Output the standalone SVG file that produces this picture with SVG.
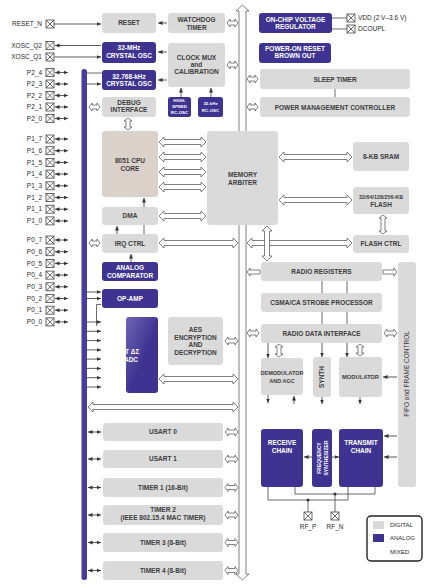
<svg xmlns="http://www.w3.org/2000/svg" width="448" height="588" viewBox="0 0 448 588">
<defs>
<style>
.g{fill:#dadada}
.p{fill:#3e3391}
.cpu{fill:#dbd1cb}
.t{font-family:"Liberation Sans",Arial,sans-serif;font-size:6.5px;font-weight:bold;fill:#3c3c3c;text-anchor:middle}
.tw{font-family:"Liberation Sans",Arial,sans-serif;font-size:6.5px;font-weight:bold;fill:#fff;text-anchor:middle}
.sm{font-size:4.4px}
.lab{font-family:"Liberation Sans",Arial,sans-serif;font-size:6.5px;fill:#2a2a2a;text-anchor:end}
.labl{font-family:"Liberation Sans",Arial,sans-serif;font-size:6.5px;fill:#2a2a2a}
.l{stroke:#444;stroke-width:0.8;fill:none}
.a{stroke:#333;stroke-width:0.8;fill:none;marker-end:url(#ah)}
.d{stroke:#333;stroke-width:0.8;fill:none;marker-start:url(#ah);marker-end:url(#ah)}
.h{fill:#fff;stroke:#555;stroke-width:0.75}
.pin{fill:#fff;stroke:#444;stroke-width:0.8}
</style>
<marker id="ah" viewBox="0 0 8 8" refX="8" refY="4" markerWidth="4.5" markerHeight="4.5" markerUnits="userSpaceOnUse" orient="auto-start-reverse"><path d="M0 0.5 L8 4 L0 7.5 z" fill="#333"/></marker>
<linearGradient id="adc" x1="0" y1="0" x2="1" y2="1"><stop offset="0" stop-color="#6f66b4"/><stop offset="0.55" stop-color="#3e3391"/></linearGradient>
<g id="px"><rect x="-4" y="-4" width="8" height="8" class="pin"/><path d="M-4 -4 L4 4 M4 -4 L-4 4" class="l"/></g>
</defs>
<rect width="448" height="588" fill="#fff"/>

<g id="connectors">
<rect x="81.5" y="69" width="5.5" height="511" rx="2.5" fill="#483d9c"/>
<path class="h" d="M239 574 V11 h-3 l6.5 -6 l6.5 6 h-3 V574 h3 l-6.5 6 l-6.5 -6 z"/>
<line class="a" x1="54" y1="24" x2="101" y2="24"/>
<line class="a" x1="101" y1="45.5" x2="55" y2="45.5"/>
<line class="a" x1="54" y1="57" x2="101" y2="57"/>
<g class="d">
<line x1="55" y1="72.5" x2="68" y2="72.5"/><line x1="55" y1="84" x2="68" y2="84"/><line x1="55" y1="95.5" x2="68" y2="95.5"/><line x1="55" y1="107" x2="68" y2="107"/><line x1="55" y1="118.5" x2="68" y2="118.5"/>
<line x1="55" y1="139" x2="68" y2="139"/><line x1="55" y1="150.7" x2="68" y2="150.7"/><line x1="55" y1="162.4" x2="68" y2="162.4"/><line x1="55" y1="174.1" x2="68" y2="174.1"/><line x1="55" y1="185.8" x2="68" y2="185.8"/><line x1="55" y1="197.5" x2="68" y2="197.5"/><line x1="55" y1="209.2" x2="68" y2="209.2"/><line x1="55" y1="220.9" x2="68" y2="220.9"/>
<line x1="55" y1="240" x2="68" y2="240"/><line x1="55" y1="251.7" x2="68" y2="251.7"/><line x1="55" y1="263.4" x2="68" y2="263.4"/><line x1="55" y1="275.1" x2="68" y2="275.1"/><line x1="55" y1="286.8" x2="68" y2="286.8"/><line x1="55" y1="298.5" x2="68" y2="298.5"/><line x1="55" y1="310.2" x2="68" y2="310.2"/><line x1="55" y1="321.9" x2="68" y2="321.9"/>
<line x1="88" y1="432" x2="101" y2="432"/><line x1="88" y1="459" x2="101" y2="459"/><line x1="88" y1="487.5" x2="101" y2="487.5"/><line x1="88" y1="515" x2="101" y2="515"/><line x1="88" y1="542.5" x2="101" y2="542.5"/><line x1="88" y1="570.5" x2="101" y2="570.5"/>
</g>
<line class="l" x1="87" y1="73" x2="102" y2="73"/>
<line class="a" x1="87" y1="84" x2="101" y2="84"/>
<line class="a" x1="87" y1="292" x2="101" y2="292"/>
<line class="a" x1="87" y1="298.5" x2="101" y2="298.5"/>
<path class="l" d="M101 304.5 H96.5 V326"/>
<g class="a">
<line x1="87" y1="322" x2="101" y2="322"/><line x1="87" y1="331.3" x2="101" y2="331.3"/><line x1="87" y1="340.6" x2="101" y2="340.6"/><line x1="87" y1="349.9" x2="101" y2="349.9"/><line x1="87" y1="359.1" x2="101" y2="359.1"/><line x1="87" y1="368.4" x2="101" y2="368.4"/><line x1="87" y1="377.7" x2="101" y2="377.7"/><line x1="87" y1="387" x2="101" y2="387"/>
</g>
<line class="a" x1="167" y1="23" x2="158" y2="23"/>
<line class="a" x1="167" y1="52" x2="158" y2="52"/>
<line class="a" x1="167" y1="80" x2="158" y2="80"/>
<line class="a" x1="181" y1="97" x2="181" y2="88"/>
<line class="a" x1="211" y1="97" x2="211" y2="88"/>
<line class="a" x1="144" y1="207" x2="144" y2="198"/>
<line class="l" x1="144" y1="225" x2="144" y2="234"/>
<line class="a" x1="117" y1="234" x2="117" y2="226"/>
<line class="a" x1="131" y1="262" x2="131" y2="254"/>
<line class="l" x1="335" y1="89" x2="335" y2="97"/>
<line class="l" x1="332" y1="18" x2="347" y2="18"/>
<line class="l" x1="332" y1="29" x2="347" y2="29"/>
<path class="h" d="M227 23 l3 -4 v2 H235 v-2 l3 4 l-3 4 v-2 H230 v2 z"/>
<path class="h" d="M227 65 l3 -4 v2 H235 v-2 l3 4 l-3 4 v-2 H230 v2 z"/>
<path class="h" d="M247 79 l3 -4 v2 H255 v-2 l3 4 l-3 4 v-2 H250 v2 z"/>
<path class="h" d="M247 107 l3 -4 v2 H255 v-2 l3 4 l-3 4 v-2 H250 v2 z"/>
<path class="h" d="M89 107 l3 -4 v2 H97 v-2 l3 4 l-3 4 v-2 H92 v2 z"/>
<path class="h" d="M89 243 l3 -4 v2 H97 v-2 l3 4 l-3 4 v-2 H92 v2 z"/>
<path class="h" d="M247 333 l3 -4 v2 H256 v-2 l3 4 l-3 4 v-2 H250 v2 z"/>
<path class="h" d="M384 333 l3 -4 v2 H394 v-2 l3 4 l-3 4 v-2 H387 v2 z"/>
<path class="h" d="M225 341 l3 -4 v2 H235 v-2 l3 4 l-3 4 v-2 H228 v2 z"/>
<path class="h" d="M225 432 l3 -4 v2 H235 v-2 l3 4 l-3 4 v-2 H228 v2 z"/>
<path class="h" d="M225 459 l3 -4 v2 H235 v-2 l3 4 l-3 4 v-2 H228 v2 z"/>
<path class="h" d="M225 487.5 l3 -4 v2 H235 v-2 l3 4 l-3 4 v-2 H228 v2 z"/>
<path class="h" d="M225 515 l3 -4 v2 H235 v-2 l3 4 l-3 4 v-2 H228 v2 z"/>
<path class="h" d="M225 542.5 l3 -4 v2 H235 v-2 l3 4 l-3 4 v-2 H228 v2 z"/>
<path class="h" d="M225 570.5 l3 -4 v2 H235 v-2 l3 4 l-3 4 v-2 H228 v2 z"/>
<path class="h" d="M247 272 l3 -4 v2 H260 v4 H250 v2 z"/>
<path class="h" d="M397 272 l-3 -4 v2 H383 v4 H394 v2 z"/>
<path class="h" d="M128 118 l-4 3 h2 V127 h-2 l4 3 l4 -3 h-2 V121 h2 z"/>
<path class="h" d="M383 215 l-4 3 h2 V231 h-2 l4 3 l4 -3 h-2 V218 h2 z"/>
<path class="h" d="M279 344 l-4 3 h2 V354 h-2 l4 3 l4 -3 h-2 V347 h2 z"/>
<path class="h" d="M360 344 l-4 3 h2 V353 h-2 l4 3 l4 -3 h-2 V347 h2 z"/>
<path class="h" d="M159 142 l5 -5 v2.5 H201 v-2.5 l5 5 l-5 5 v-2.5 H164 v2.5 z"/>
<path class="h" d="M159 157 l5 -5 v2.5 H201 v-2.5 l5 5 l-5 5 v-2.5 H164 v2.5 z"/>
<path class="h" d="M159 172 l5 -5 v2.5 H201 v-2.5 l5 5 l-5 5 v-2.5 H164 v2.5 z"/>
<path class="h" d="M159 187 l5 -5 v2.5 H201 v-2.5 l5 5 l-5 5 v-2.5 H164 v2.5 z"/>
<path class="h" d="M159 216 l5 -5 v2.5 H201 v-2.5 l5 5 l-5 5 v-2.5 H164 v2.5 z"/>
<path class="h" d="M159 243 l5 -5 v2.5 H233 v-2.5 l5 5 l-5 5 v-2.5 H164 v2.5 z"/>
<path class="h" d="M247 243 l5 -5 v2.5 H347 v-2.5 l5 5 l-5 5 v-2.5 H252 v2.5 z"/>
<path class="h" d="M279 157 l5 -5 v2.5 H347 v-2.5 l5 5 l-5 5 v-2.5 H284 v2.5 z"/>
<path class="h" d="M279 200 l5 -5 v2.5 H347 v-2.5 l5 5 l-5 5 v-2.5 H284 v2.5 z"/>
<path class="h" d="M159 379 l5 -5 v2.5 H233 v-2.5 l5 5 l-5 5 v-2.5 H164 v2.5 z"/>
<path class="h" d="M88 407 l5 -5 v2.5 H233 v-2.5 l5 5 l-5 5 v-2.5 H93 v2.5 z"/>
<path class="h" d="M267 226 l-5 5 h2.5 V256 h-2.5 l5 5 l5 -5 h-2.5 V231 h2.5 z"/>
<path class="l" d="M322 281 V293 M347 281 V293 M322 312 V324 M347 312 V324"/>
<line class="a" x1="322" y1="343" x2="322" y2="357"/>
<line class="a" x1="347" y1="343" x2="347" y2="357"/>
<line class="a" x1="268" y1="343" x2="268" y2="358"/>
<line class="a" x1="268" y1="395" x2="268" y2="403"/>
<line class="a" x1="294" y1="404" x2="294" y2="396"/>
<line class="a" x1="322" y1="397" x2="322" y2="404"/>
<line class="a" x1="360" y1="397" x2="360" y2="404"/>
<line class="a" x1="397" y1="377" x2="383" y2="377"/>
<line class="a" x1="397" y1="436" x2="384" y2="436"/>
<line class="a" x1="397" y1="457" x2="384" y2="457"/>
<line class="a" x1="312" y1="457" x2="304" y2="457"/>
<line class="a" x1="332" y1="457" x2="339" y2="457"/>
<path class="l" d="M268 487 V500 H348 V487"/>
<path class="l" d="M295 487 V494 H375 V487"/>
<path class="l" d="M308 500 V512 M335 494 V512"/>
<circle cx="308" cy="500" r="1.5" fill="#333"/>
<circle cx="335" cy="494" r="1.5" fill="#333"/>
</g>

<g id="pins">
<g id="pin-reset_n"><text class="lab" x="42" y="26.2">RESET_N</text><use href="#px" x="50" y="24"/></g>
<g id="pin-xosc_q2"><text class="lab" x="42" y="47.7">XOSC_Q2</text><use href="#px" x="50" y="45.5"/></g>
<g id="pin-xosc_q1"><text class="lab" x="42" y="59.2">XOSC_Q1</text><use href="#px" x="50" y="57"/></g>
<g id="pin-p2_4"><text class="lab" x="42" y="74.7">P2_4</text><use href="#px" x="50" y="72.5"/></g>
<g id="pin-p2_3"><text class="lab" x="42" y="86.2">P2_3</text><use href="#px" x="50" y="84"/></g>
<g id="pin-p2_2"><text class="lab" x="42" y="97.7">P2_2</text><use href="#px" x="50" y="95.5"/></g>
<g id="pin-p2_1"><text class="lab" x="42" y="109.2">P2_1</text><use href="#px" x="50" y="107"/></g>
<g id="pin-p2_0"><text class="lab" x="42" y="120.7">P2_0</text><use href="#px" x="50" y="118.5"/></g>
<g id="pin-p1_7"><text class="lab" x="42" y="141.2">P1_7</text><use href="#px" x="50" y="139"/></g>
<g id="pin-p1_6"><text class="lab" x="42" y="152.9">P1_6</text><use href="#px" x="50" y="150.7"/></g>
<g id="pin-p1_5"><text class="lab" x="42" y="164.6">P1_5</text><use href="#px" x="50" y="162.4"/></g>
<g id="pin-p1_4"><text class="lab" x="42" y="176.3">P1_4</text><use href="#px" x="50" y="174.1"/></g>
<g id="pin-p1_3"><text class="lab" x="42" y="188">P1_3</text><use href="#px" x="50" y="185.8"/></g>
<g id="pin-p1_2"><text class="lab" x="42" y="199.7">P1_2</text><use href="#px" x="50" y="197.5"/></g>
<g id="pin-p1_1"><text class="lab" x="42" y="211.4">P1_1</text><use href="#px" x="50" y="209.2"/></g>
<g id="pin-p1_0"><text class="lab" x="42" y="223.1">P1_0</text><use href="#px" x="50" y="220.9"/></g>
<g id="pin-p0_7"><text class="lab" x="42" y="242.2">P0_7</text><use href="#px" x="50" y="240"/></g>
<g id="pin-p0_6"><text class="lab" x="42" y="253.9">P0_6</text><use href="#px" x="50" y="251.7"/></g>
<g id="pin-p0_5"><text class="lab" x="42" y="265.6">P0_5</text><use href="#px" x="50" y="263.4"/></g>
<g id="pin-p0_4"><text class="lab" x="42" y="277.3">P0_4</text><use href="#px" x="50" y="275.1"/></g>
<g id="pin-p0_3"><text class="lab" x="42" y="289">P0_3</text><use href="#px" x="50" y="286.8"/></g>
<g id="pin-p0_2"><text class="lab" x="42" y="300.7">P0_2</text><use href="#px" x="50" y="298.5"/></g>
<g id="pin-p0_1"><text class="lab" x="42" y="312.4">P0_1</text><use href="#px" x="50" y="310.2"/></g>
<g id="pin-p0_0"><text class="lab" x="42" y="324.1">P0_0</text><use href="#px" x="50" y="321.9"/></g>
<g id="pin-vdd"><use href="#px" x="351" y="18"/><text class="labl" x="358" y="20.2">VDD (2 V–3.6 V)</text></g>
<g id="pin-dcoupl"><use href="#px" x="351" y="29"/><text class="labl" x="358" y="31.2">DCOUPL</text></g>
<g id="pin-rf_p"><use href="#px" x="308" y="516"/><text class="labl" x="308" y="529" text-anchor="middle">RF_P</text></g>
<g id="pin-rf_n"><use href="#px" x="335" y="516"/><text class="labl" x="335" y="529" text-anchor="middle">RF_N</text></g>
</g>

<g id="reset"><rect class="g" x="102" y="13" width="54" height="20" rx="3"/><text class="t" x="129" y="25.3">RESET</text></g>
<g id="watchdog"><rect class="g" x="168" y="13" width="57" height="20" rx="3"/><text class="t" x="196.5" y="22">WATCHDOG</text><text class="t" x="196.5" y="29.7">TIMER</text></g>
<g id="osc32m"><rect class="p" x="102" y="42" width="54" height="21" rx="3"/><text class="tw" x="129" y="50.2">32-MHz</text><text class="tw" x="129" y="57.8">CRYSTAL OSC</text></g>
<g id="osc32k"><rect class="p" x="102" y="70" width="54" height="20" rx="3"/><text class="tw" x="129" y="78.5">32.768-kHz</text><text class="tw" x="129" y="86.2">CRYSTAL OSC</text></g>
<g id="debug"><rect class="g" x="102" y="97" width="54" height="20" rx="3"/><text class="t" x="129" y="105">DEBUG</text><text class="t" x="129" y="112.3">INTERFACE</text></g>
<g id="clockmux"><rect class="g" x="168" y="43" width="57" height="44" rx="3"/><text class="t" x="196.5" y="60.2">CLOCK MUX</text><text class="t" x="196.5" y="67.2">and</text><text class="t" x="196.5" y="74.2">CALIBRATION</text></g>
<g id="hsrcosc"><rect class="p" x="168" y="97" width="23" height="20" rx="2.5"/><text class="tw sm" x="179.5" y="102.3">HIGH-</text><text class="tw sm" x="179.5" y="108.3">SPEED</text><text class="tw sm" x="179.5" y="114.3">RC-OSC</text></g>
<g id="rcosc32k"><rect class="p" x="198" y="97" width="25" height="20" rx="2.5"/><text class="tw sm" x="210.5" y="105">32-kHz</text><text class="tw sm" x="210.5" y="111.5">RC-OSC</text></g>
<g id="regulator"><rect class="p" x="259" y="13" width="73" height="20" rx="3"/><text class="tw" x="295.5" y="22">ON-CHIP VOLTAGE</text><text class="tw" x="295.5" y="29.2">REGULATOR</text></g>
<g id="por"><rect class="p" x="259" y="43" width="72" height="20" rx="3"/><text class="tw" x="295" y="50.8">POWER-ON RESET</text><text class="tw" x="295" y="58.2">BROWN OUT</text></g>
<g id="sleep"><rect class="g" x="260" y="69" width="150" height="20" rx="3"/><text class="t" x="335" y="81.5">SLEEP TIMER</text></g>
<g id="pmc"><rect class="g" x="260" y="97" width="150" height="20" rx="3"/><text class="t" x="335" y="109.5">POWER MANAGEMENT CONTROLLER</text></g>
<g id="cpu"><rect class="cpu" x="102" y="131" width="56" height="66" rx="3"/><text class="t" x="130" y="163">8051 CPU</text><text class="t" x="130" y="170.7">CORE</text></g>
<g id="arbiter"><rect class="g" x="207" y="131" width="71" height="94" rx="3"/><text class="t" x="242.5" y="177">MEMORY</text><text class="t" x="242.5" y="184.7">ARBITER</text></g>
<g id="dma"><rect class="g" x="102" y="207" width="56" height="18" rx="3"/><text class="t" x="130" y="218.4">DMA</text></g>
<g id="irq"><rect class="g" x="102" y="234" width="56" height="19" rx="3"/><text class="t" x="130" y="245.6">IRQ CTRL</text></g>
<g id="comparator"><rect class="p" x="102" y="262" width="56" height="19" rx="3"/><text class="tw" x="130" y="270">ANALOG</text><text class="tw" x="130" y="277.5">COMPARATOR</text></g>
<g id="opamp"><rect class="p" x="102" y="289" width="56" height="19" rx="3"/><text class="tw" x="130" y="300.6">OP-AMP</text></g>
<g id="adc"><rect x="126" y="317" width="32" height="76" rx="3" fill="url(#adc)"/><text class="tw" x="129" y="354" text-anchor="start">BIT ΔΣ</text><text class="tw" x="131" y="361.5" text-anchor="start">ADC</text></g>
<g id="aes"><rect class="g" x="168" y="317" width="55" height="48" rx="3"/><text class="t" x="195.5" y="332">AES</text><text class="t" x="195.5" y="339.5">ENCRYPTION</text><text class="t" x="195.5" y="347">AND</text><text class="t" x="195.5" y="354.5">DECRYPTION</text></g>
<g id="usart0"><rect class="g" x="103" y="423" width="120" height="18" rx="3"/><text class="t" x="163" y="434.4">USART 0</text></g>
<g id="usart1"><rect class="g" x="103" y="450" width="120" height="18" rx="3"/><text class="t" x="163" y="461.4">USART 1</text></g>
<g id="timer1"><rect class="g" x="103" y="478" width="120" height="19" rx="3"/><text class="t" x="163" y="489.9">TIMER 1 (16-Bit)</text></g>
<g id="timer2"><rect class="g" x="103" y="505" width="120" height="20" rx="3"/><text class="t" x="163" y="511.9">TIMER 2</text><text class="t" x="163" y="519.7">(IEEE 802.15.4 MAC TIMER)</text></g>
<g id="timer3"><rect class="g" x="103" y="533" width="120" height="19" rx="3"/><text class="t" x="163" y="544.9">TIMER 3 (8-Bit)</text></g>
<g id="timer4"><rect class="g" x="103" y="561" width="120" height="19" rx="3"/><text class="t" x="163" y="572.9">TIMER 4 (8-Bit)</text></g>
<g id="sram"><rect class="g" x="353" y="142" width="56" height="29" rx="3"/><text class="t" x="381" y="159">8-KB SRAM</text></g>
<g id="flash"><rect class="g" x="353" y="187" width="56" height="27" rx="3"/><text class="t" x="381" y="199" style="font-size:5.4px">32/64/128/256-KB</text><text class="t" x="381" y="207.2">FLASH</text></g>
<g id="flashctrl"><rect class="g" x="353" y="235" width="56" height="18" rx="3"/><text class="t" x="381" y="246.4">FLASH CTRL</text></g>
<g id="radioreg"><rect class="g" x="261" y="262" width="121" height="19" rx="3"/><text class="t" x="321.5" y="274">RADIO REGISTERS</text></g>
<g id="csma"><rect class="g" x="261" y="293" width="121" height="19" rx="3"/><text class="t" x="321.5" y="305">CSMA/CA STROBE PROCESSOR</text></g>
<g id="rdi"><rect class="g" x="261" y="324" width="121" height="19" rx="3"/><text class="t" x="321.5" y="335.6">RADIO DATA INTERFACE</text></g>
<g id="fifo"><rect class="g" x="398" y="262" width="18" height="225" rx="3"/><text class="t" transform="translate(409.3 374) rotate(-90)" style="font-weight:normal">FIFO and FRAME CONTROL</text></g>
<g id="demod"><rect class="g" x="261" y="358" width="42" height="37" rx="3"/><text class="t" x="282" y="375" style="font-size:5.5px">DEMODULATOR</text><text class="t" x="282" y="382.5" style="font-size:5.5px">AND AGC</text></g>
<g id="synth"><rect class="g" x="313" y="357" width="18" height="40" rx="3"/><text class="t" transform="translate(324.3 377) rotate(-90)">SYNTH</text></g>
<g id="modulator"><rect class="g" x="339" y="357" width="43" height="40" rx="3"/><text class="t" x="360.5" y="379" style="font-size:5.8px">MODULATOR</text></g>
<g id="receive"><rect class="p" x="261" y="429" width="42" height="58" rx="3"/><text class="tw" x="282" y="445">RECEIVE</text><text class="tw" x="282" y="452.6">CHAIN</text></g>
<g id="freqsynth"><rect class="p" x="312" y="429" width="20" height="58" rx="3"/><text class="tw" transform="translate(320.5 458) rotate(-90)" style="font-size:5px">FREQUENCY</text><text class="tw" transform="translate(327.5 458) rotate(-90)" style="font-size:5px">SYNTHESIZER</text></g>
<g id="transmit"><rect class="p" x="339" y="429" width="44" height="58" rx="3"/><text class="tw" x="361" y="445">TRANSMIT</text><text class="tw" x="361" y="452.6">CHAIN</text></g>
<g id="legend"><rect x="367" y="516" width="55" height="45" rx="4" fill="#fff" stroke="#222" stroke-width="1.4"/><rect class="g" x="373" y="521" width="11" height="8"/><text class="labl" x="390" y="527.3" style="font-size:6px">DIGITAL</text><rect class="p" x="373" y="534" width="11" height="8"/><text class="labl" x="390" y="540.3" style="font-size:6px">ANALOG</text><text class="labl" x="390" y="553.5" style="font-size:6px">MIXED</text></g>
</svg>
